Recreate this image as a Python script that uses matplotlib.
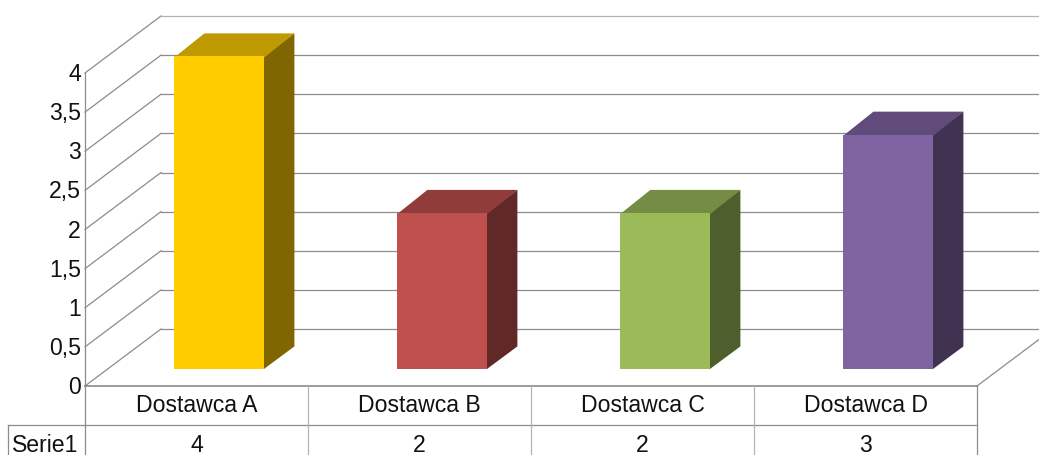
import matplotlib
matplotlib.use("Agg")
import matplotlib.pyplot as plt
from matplotlib.patches import Polygon

plt.rcParams["font.family"] = ["Liberation Sans", "DejaVu Sans"]

categories = ["Dostawca A", "Dostawca B", "Dostawca C", "Dostawca D"]
serie1 = [4, 2, 2, 3]
serie_name = "Serie1"
y_ticks = [0, 0.5, 1, 1.5, 2, 2.5, 3, 3.5, 4]
y_labels = ["0", "0,5", "1", "1,5", "2", "2,5", "3", "3,5", "4"]

front_colors = ["#FFCC00", "#C0504D", "#9BBB59", "#8064A2"]
top_colors = ["#BF9900", "#903C3A", "#748C43", "#604B7A"]
side_colors = ["#806600", "#602826", "#4E5E2D", "#403251"]

# one category is 223 px wide, one value unit is 78.25 px high
XPX = 1 / 223
YPX = 1 / 78.25
FONT = 16.6

fig = plt.figure(figsize=(10.39, 4.55), dpi=100)
ax = fig.add_axes([0, 0, 1, 1])
ax.set_xlim(-85 * XPX, 954 * XPX)
ax.set_ylim(-69 * YPX, 386 * YPX)
ax.axis("off")

wall_dx = 76 * XPX
wall_dy = 57 * YPX
n = len(categories)
GRID = "#8c8c8c"

# walls
for v, lab in zip(y_ticks, y_labels):
    ax.plot([0, wall_dx], [v, v + wall_dy], color=GRID, lw=0.9, zorder=1)
    ax.plot([wall_dx, n + wall_dx], [v + wall_dy, v + wall_dy],
            color="#b3b3b3" if v == 4 else GRID, lw=0.9, zorder=1)
    ax.text(-4 * XPX, v - 1.5 * YPX, lab, ha="right", va="center",
            fontsize=FONT, color="#111111")
ax.plot([0, 0], [0, y_ticks[-1]], color=GRID, lw=0.9, zorder=1)
ax.plot([n, n + wall_dx], [0, wall_dy], color=GRID, lw=0.9, zorder=1)

# bars, sides first so the front covers the seam
bar_dx = 89.4 * XPX
bar_base = 16.6 * YPX
bar_w = 90 * XPX
side_dx = 30 * XPX
side_dy = 23 * YPX
for i, v in enumerate(serie1):
    left = i + bar_dx
    right = left + bar_w
    top = bar_base + v
    ax.add_patch(Polygon([(right - XPX, bar_base), (right + side_dx, bar_base + side_dy),
                          (right + side_dx, top + side_dy), (right - XPX, top)],
                         closed=True, fc=side_colors[i], ec="none", zorder=3))
    ax.add_patch(Polygon([(left, top - YPX), (left + side_dx, top + side_dy),
                          (right + side_dx, top + side_dy), (right, top - YPX)],
                         closed=True, fc=top_colors[i], ec="none", zorder=3.1))
    ax.bar(left, v, width=bar_w, bottom=bar_base, align="edge",
           color=front_colors[i], lw=0, zorder=3.2)

# data table under the chart
row1 = -39 * YPX
row2 = -69 * YPX
ax.plot([0, n], [0, 0], color="#808080", lw=1.1, zorder=4)
ax.plot([-77 * XPX, n], [row1, row1], color=GRID, lw=0.9, zorder=4)
ax.plot([-77 * XPX, -77 * XPX], [row1, row2], color=GRID, lw=0.9, zorder=4)
for c in range(n + 1):
    col = "#b3b3b3" if 0 < c < n else GRID
    ax.plot([c, c], [0, row2], color=col, lw=0.9, zorder=4)
for i, (name, v) in enumerate(zip(categories, serie1)):
    ax.text(i + 0.5, row1 / 2 - 0.5 * YPX, name, ha="center", va="center",
            fontsize=FONT, color="#111111")
    ax.text(i + 0.5, row1 - 26.5 * YPX, str(v), ha="center", va="baseline",
            fontsize=FONT, color="#111111")
ax.text(-73.5 * XPX, row1 - 26.5 * YPX, serie_name, ha="left", va="baseline",
        fontsize=FONT, color="#111111")

fig.savefig("out.png", dpi=100)
